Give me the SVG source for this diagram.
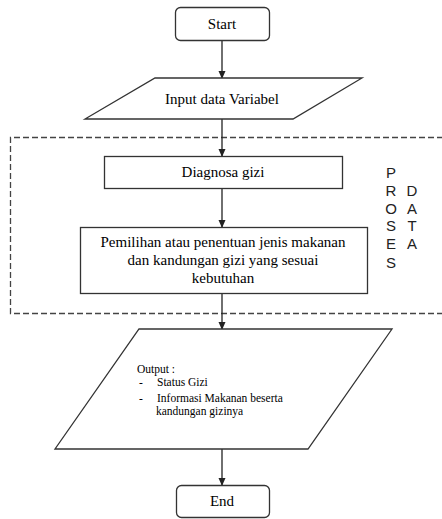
<svg xmlns="http://www.w3.org/2000/svg" width="442" height="519" viewBox="0 0 442 519">
<style>
.s{fill:#fff;stroke:#333;stroke-width:1.3}
.t{font-family:"Liberation Serif","Times New Roman","DejaVu Serif",serif;font-size:15px;fill:#000;text-anchor:middle}
.o{font-family:"Liberation Serif","Times New Roman","DejaVu Serif",serif;font-size:11.5px;fill:#000}
.p{font-family:"Liberation Sans",Arial,sans-serif;font-size:15px;fill:#222;text-anchor:middle}
.c{stroke:#222;stroke-width:1.3;fill:none;marker-end:url(#a)}
</style>
<defs>
<marker id="a" markerWidth="8" markerHeight="8" refX="7" refY="4" orient="auto" markerUnits="userSpaceOnUse">
<path d="M0,0.5 L8,4 L0,7.5 Z" fill="#222"/>
</marker>
</defs>
<rect width="442" height="519" fill="#fff"/>
<g id="group-proses">
<path d="M443,137.5 H10.5 V313.5 H443" fill="none" stroke="#444" stroke-width="1.3" stroke-dasharray="6,3"/>
<text class="p" x="391" y="178">P</text>
<text class="p" x="391" y="196">R</text>
<text class="p" x="391" y="214">O</text>
<text class="p" x="391" y="231">S</text>
<text class="p" x="391" y="249">E</text>
<text class="p" x="391" y="268">S</text>
<text class="p" x="412" y="196">D</text>
<text class="p" x="412" y="214">A</text>
<text class="p" x="412" y="231">T</text>
<text class="p" x="412" y="249">A</text>
</g>
<g id="connectors">
<line class="c" x1="222" y1="40" x2="222" y2="78"/>
<line class="c" x1="222" y1="119" x2="222" y2="156"/>
<line class="c" x1="222" y1="188" x2="222" y2="227"/>
<line class="c" x1="222" y1="293" x2="222" y2="329"/>
<line class="c" x1="222" y1="449" x2="222" y2="485"/>
</g>
<g id="start">
<rect class="s" x="175.5" y="7.5" width="94" height="33" rx="5"/>
<text class="t" x="222" y="29">Start</text>
</g>
<g id="input">
<polygon class="s" points="155,78 362,78 293,119 85,119"/>
<text class="t" x="222" y="104">Input data Variabel</text>
</g>
<g id="diagnosa">
<rect class="s" x="104.5" y="156.5" width="238" height="32"/>
<text class="t" x="223" y="177">Diagnosa gizi</text>
</g>
<g id="pemilihan">
<rect class="s" x="80.5" y="227.5" width="287" height="66"/>
<text class="t" x="223" y="247">Pemilihan atau penentuan jenis makanan</text>
<text class="t" x="223" y="265">dan kandungan gizi yang sesuai</text>
<text class="t" x="223" y="283">kebutuhan</text>
</g>
<g id="output">
<polygon class="s" points="139,329 392,329 308,449 55,449"/>
<text class="o" x="137" y="373">Output :</text>
<text class="o" x="139" y="386">-</text>
<text class="o" x="157" y="386">Status Gizi</text>
<text class="o" x="139" y="402">-</text>
<text class="o" x="157" y="402">Informasi Makanan beserta</text>
<text class="o" x="156" y="415">kandungan gizinya</text>
</g>
<g id="end">
<rect class="s" x="176.5" y="485.5" width="93" height="32" rx="5"/>
<text class="t" x="222" y="506">End</text>
</g>
</svg>
